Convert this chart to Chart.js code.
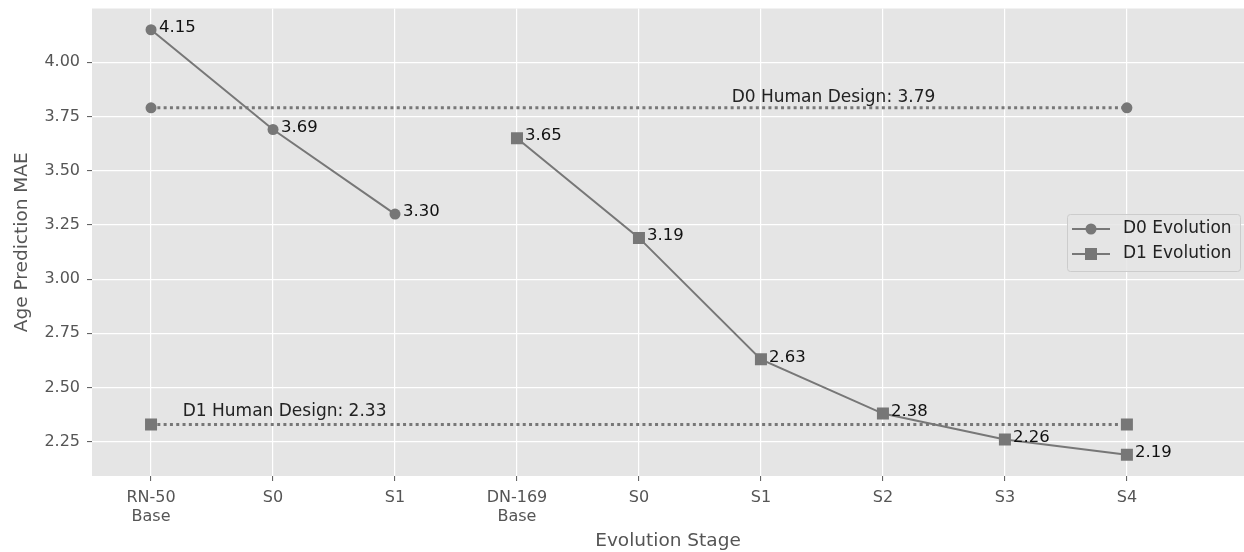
<!DOCTYPE html>
<html>
<head>
<meta charset="utf-8">
<script src="https://cdn.jsdelivr.net/npm/chart.js@4.4.0/dist/chart.umd.min.js"></script>
<style>
  html, body { margin: 0; padding: 0; background: #fff; overflow: hidden; }
  #wrap { width: 1244px; height: 552px; }
  canvas { display: block; }
</style>
</head>
<body>
<div id="wrap"><canvas id="myChart" width="1244" height="552"></canvas></div>
<script>
// chart data
const stages = [['RN-50', 'Base'], 'S0', 'S1', ['DN-169', 'Base'], 'S0', 'S1', 'S2', 'S3', 'S4'];
const d0Stages = [0, 1, 2];
const d0Values = [4.15, 3.69, 3.30];
const d1Stages = [3, 4, 5, 6, 7, 8];
const d1Values = [3.65, 3.19, 2.63, 2.38, 2.26, 2.19];
const humanStages = [0, 8];
const d0Human = 3.79;
const d1Human = 2.33;
const yTicks = [2.25, 2.50, 2.75, 3.00, 3.25, 3.50, 3.75, 4.00];

const GRAY = '#777777';
const FONT = "'DejaVu Sans', sans-serif";

const toPoints = (xs, ys) => xs.map((x, i) => ({ x: x, y: ys[i] }));

// value labels, human design captions and the legend
const annotatePlugin = {
    id: 'annotate',
    afterLayout: (chart) => {
        // stretch the plot to the right edge of the canvas
        const xs = chart.scales.x;
        xs.right = chart.width;
        xs.width = xs.right - xs.left;
        xs.configure();
        chart.chartArea.right = chart.width;
        chart.chartArea.width = chart.chartArea.right - chart.chartArea.left;
    },
    afterDatasetsDraw: (chart) => {
        const ctx = chart.ctx;
        const xs = chart.scales.x;
        const ys = chart.scales.y;
        ctx.save();
        ctx.font = '16.5px ' + FONT;
        ctx.fillStyle = '#111';
        ctx.textAlign = 'left';
        ctx.textBaseline = 'middle';
        [[d0Stages, d0Values], [d1Stages, d1Values]].forEach(([sx, sv]) => {
            sx.forEach((x, i) => {
                ctx.fillText(sv[i].toFixed(2), xs.getPixelForValue(x) + 8, ys.getPixelForValue(sv[i]) - 2);
            });
        });

        ctx.font = '17px ' + FONT;
        ctx.fillStyle = '#222';
        ctx.textBaseline = 'alphabetic';
        ctx.fillText('D0 Human Design: ' + d0Human.toFixed(2), xs.getPixelForValue(4.76), ys.getPixelForValue(d0Human) - 6);
        ctx.fillText('D1 Human Design: ' + d1Human.toFixed(2), xs.getPixelForValue(0.26), ys.getPixelForValue(d1Human) - 8);

        // legend box
        const lx = 1067, ly = 214, lw = 173, lh = 57;
        ctx.fillStyle = 'rgba(229,229,229,0.85)';
        ctx.strokeStyle = '#cccccc';
        ctx.lineWidth = 1;
        ctx.beginPath();
        ctx.roundRect(lx + 0.5, ly + 0.5, lw, lh, 3);
        ctx.fill();
        ctx.stroke();
        const rows = [['D0 Evolution', 'circle', 229], ['D1 Evolution', 'rect', 254]];
        rows.forEach(([label, shape, y]) => {
            ctx.strokeStyle = GRAY;
            ctx.lineWidth = 2;
            ctx.beginPath();
            ctx.moveTo(1072, y);
            ctx.lineTo(1110, y);
            ctx.stroke();
            ctx.fillStyle = GRAY;
            if (shape === 'circle') {
                ctx.beginPath();
                ctx.arc(1091, y, 5.5, 0, Math.PI * 2);
                ctx.fill();
            } else {
                ctx.fillRect(1085, y - 6, 12, 12);
            }
            ctx.fillStyle = '#222';
            ctx.textBaseline = 'middle';
            ctx.fillText(label, 1123, y);
        });
        ctx.restore();
    }
};

const ctx = document.getElementById('myChart').getContext('2d');

const myChart = new Chart(ctx, {
    type: 'line',
    data: {
        datasets: [
            {
                label: 'D0 Human Design',
                data: toPoints(humanStages, [d0Human, d0Human]),
                borderColor: GRAY,
                backgroundColor: GRAY,
                borderWidth: 3,
                borderDash: [3, 3.3],
                pointStyle: 'circle',
                pointRadius: 5.5,
                pointBorderWidth: 0
            },
            {
                label: 'D1 Human Design',
                data: toPoints(humanStages, [d1Human, d1Human]),
                borderColor: GRAY,
                backgroundColor: GRAY,
                borderWidth: 3,
                borderDash: [3, 3.3],
                pointStyle: 'rect',
                pointRadius: 8.5,
                pointBorderWidth: 0
            },
            {
                label: 'D0 Evolution',
                data: toPoints(d0Stages, d0Values),
                borderColor: GRAY,
                backgroundColor: GRAY,
                borderWidth: 2,
                pointStyle: 'circle',
                pointRadius: 5.5,
                pointBorderWidth: 0
            },
            {
                label: 'D1 Evolution',
                data: toPoints(d1Stages, d1Values),
                borderColor: GRAY,
                backgroundColor: GRAY,
                borderWidth: 2,
                pointStyle: 'rect',
                pointRadius: 8.5,
                pointBorderWidth: 0
            }
        ]
    },
    options: {
        responsive: false,
        animation: false,
        layout: { padding: { top: 8, right: 0, left: 0, bottom: 0 } },
        plugins: {
            legend: { display: false },
            tooltip: { enabled: false }
        },
        scales: {
            x: {
                type: 'linear',
                min: -0.484,
                max: 8.96,
                afterBuildTicks: (scale) => {
                    scale.ticks = stages.map((s, i) => ({ value: i }));
                },
                afterFit: (scale) => {
                    scale.height = 76;
                    scale.paddingLeft = 0;
                    scale.paddingRight = 0;
                },
                ticks: {
                    color: '#555',
                    font: { family: FONT, size: 16, lineHeight: 1.15 },
                    padding: 8,
                    maxRotation: 0,
                    autoSkip: false,
                    callback: (value) => stages[value]
                },
                grid: { color: '#ffffff', lineWidth: 1.2, tickColor: '#555', tickLength: 5, tickWidth: 1 },
                border: { display: false },
                title: {
                    display: true,
                    text: 'Evolution Stage',
                    color: '#555',
                    font: { family: FONT, size: 18.5 },
                    padding: { top: 0, bottom: 0 }
                }
            },
            y: {
                min: 2.092,
                max: 4.248,
                afterBuildTicks: (scale) => {
                    scale.ticks = yTicks.map(v => ({ value: v }));
                },
                afterFit: (scale) => {
                    scale.width = 92;
                    scale.paddingTop = 0;
                    scale.paddingBottom = 0;
                },
                ticks: {
                    color: '#555',
                    font: { family: FONT, size: 16 },
                    padding: 7,
                    callback: (value) => value.toFixed(2)
                },
                grid: { color: '#ffffff', lineWidth: 1.2, tickColor: '#555', tickLength: 5, tickWidth: 1 },
                border: { display: false },
                title: {
                    display: true,
                    text: 'Age Prediction MAE',
                    color: '#555',
                    font: { family: FONT, size: 18.5 },
                    padding: { top: 11, bottom: 0 }
                }
            }
        }
    },
    plugins: [
        {
            id: 'plotBackground',
            beforeDraw: (chart) => {
                const a = chart.chartArea;
                chart.ctx.save();
                chart.ctx.fillStyle = '#e5e5e5';
                chart.ctx.fillRect(a.left, a.top, a.right - a.left, a.bottom - a.top);
                chart.ctx.restore();
            }
        },
        annotatePlugin
    ]
});
</script>
</body>
</html>
